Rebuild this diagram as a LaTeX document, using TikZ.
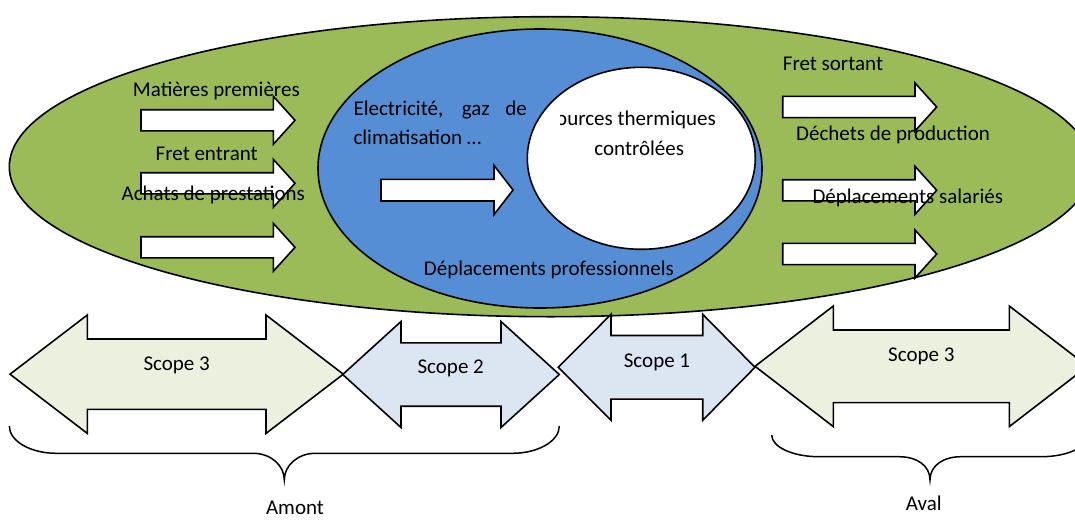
\documentclass[tikz,border=0pt]{standalone}
\usepackage{fontspec}
\setmainfont{Carlito}

\definecolor{ringgreen}{HTML}{9BBB59}
\definecolor{coreblue}{HTML}{558ED5}
\definecolor{scopegreen}{HTML}{EBF1DE}
\definecolor{scopeblue}{HTML}{DCE6F2}

\tikzset{
  outline/.style={draw=black, line width=1.6pt, line join=miter},
  blockarrow/.style={outline, fill=white},
  bracestyle/.style={draw=black, line width=1.5pt},
  txt/.style={inner sep=0pt, font=\fontsize{21}{25}\selectfont, text=black},
}

% right-pointing block arrow: start x, head base x, tip x, centre y
\newcommand{\flowarrow}[4]{%
  \draw[blockarrow] (#1,#4-10.6) -- (#2,#4-10.6) -- (#2,#4-24) -- (#3,#4)
    -- (#2,#4+24) -- (#2,#4+10.6) -- (#1,#4+10.6) -- cycle;}

% two-headed scope arrow: left tip, left head base, right head base, right tip,
% centre y, half body height, half head height, fill colour
\newcommand{\scopearrow}[8]{%
  \draw[outline, fill=#8] (#1,#5) -- (#2,#5-#7) -- (#2,#5-#6) -- (#3,#5-#6)
    -- (#3,#5-#7) -- (#4,#5) -- (#3,#5+#7) -- (#3,#5+#6) -- (#2,#5+#6)
    -- (#2,#5+#7) -- cycle;}

% curly brace opening upwards: left x, right x, middle x, top y, line y, point y
\newcommand{\spanbrace}[6]{%
  \draw[bracestyle] (#1,#4) .. controls (#1,#4+0.55*#5-0.55*#4) and (#1+21,#5) .. (#1+47,#5)
    -- (#3-31,#5) .. controls (#3-14,#5) and (#3,#6-15) .. (#3,#6)
    .. controls (#3,#6-15) and (#3+14,#5) .. (#3+31,#5)
    -- (#2-47,#5) .. controls (#2-21,#5) and (#2,#4+0.55*#5-0.55*#4) .. (#2,#4);}

\begin{document}
\begin{tikzpicture}[x=1pt, y=-1pt]
\useasboundingbox (0,0) rectangle (1075,519);
\begin{scope}
\clip (0,0) rectangle (1075,519);

% nested perimeters
\draw[outline, fill=ringgreen] (550.5,166.7) ellipse [x radius=541.2, y radius=150];
\draw[outline, fill=coreblue] (540,168.5) ellipse [x radius=222, y radius=139.5];
\draw[outline, fill=white] (641.3,158.3) ellipse [x radius=114, y radius=91];

% upstream flows
\flowarrow{141}{273.3}{295}{120.3}
\flowarrow{141}{273.3}{295}{183.3}
\flowarrow{141}{273.3}{295}{247.3}

% energy flow
\draw[blockarrow] (381,179.3) -- (494,179.3) -- (494,165.4) -- (513,190)
  -- (494,214.6) -- (494,201) -- (381,201) -- cycle;

% downstream flows
\flowarrow{782.7}{915}{936.7}{107}
\flowarrow{782.7}{915}{936.7}{190.3}
\flowarrow{782.7}{915}{936.7}{254}

% labels inside the perimeters
\node[txt, anchor=base] (matieres) at (216.3,96.7) {Matières premières};
\node[txt, anchor=base] (fretin) at (206.7,160.7) {Fret entrant};
\node[txt, anchor=base] (achats) at (213.3,200) {Achats de prestations};
\node[txt, anchor=base west] (elec) at (353.3,115) {\makebox[173.4pt][s]{Electricité, gaz de}};
\node[txt, anchor=base west] (clim) at (353.3,144) {climatisation …};
\begin{scope}
  \clip (560.7,80) rectangle (760,140);
  \node[txt, anchor=base east] (sources) at (716,125) {Sources thermiques};
\end{scope}
\node[txt, anchor=base] (controlees) at (639.2,155) {contrôlées};
\node[txt, anchor=base] (deppro) at (548.9,275) {Déplacements professionnels};
\node[txt, anchor=base west] (fretout) at (782.7,70.7) {Fret sortant};
\node[txt, anchor=base west] (dechets) at (796,140.7) {Déchets de production};
\node[txt, anchor=base west] (depsal) at (812.3,203.3) {Déplacements salariés};

% scope band
\scopearrow{10}{87.3}{266}{343.3}{374.2}{35.2}{59.2}{scopegreen}
\scopearrow{342.7}{401}{501}{559.3}{374.5}{31.7}{53}{scopeblue}
\scopearrow{558.3}{611}{702.7}{755}{367.3}{31.8}{53}{scopeblue}
\scopearrow{755}{833.3}{1009.3}{1087.6}{366.3}{36.3}{60.3}{scopegreen}

\node[txt, anchor=base] (s3up) at (176.7,370) {Scope 3};
\node[txt, anchor=base] (s2) at (450.7,373.3) {Scope 2};
\node[txt, anchor=base] (s1) at (657,367.7) {Scope 1};
\node[txt, anchor=base] (s3down) at (921.3,361.7) {Scope 3};

% upstream / downstream braces
\spanbrace{9.3}{559.3}{284.3}{426}{453.3}{480}
\spanbrace{771.7}{1088.3}{930}{435}{456.7}{480}
\node[txt, anchor=base] (amont) at (295,514) {Amont};
\node[txt, anchor=base] (aval) at (923.7,510) {Aval};
\end{scope}
\end{tikzpicture}
\end{document}
